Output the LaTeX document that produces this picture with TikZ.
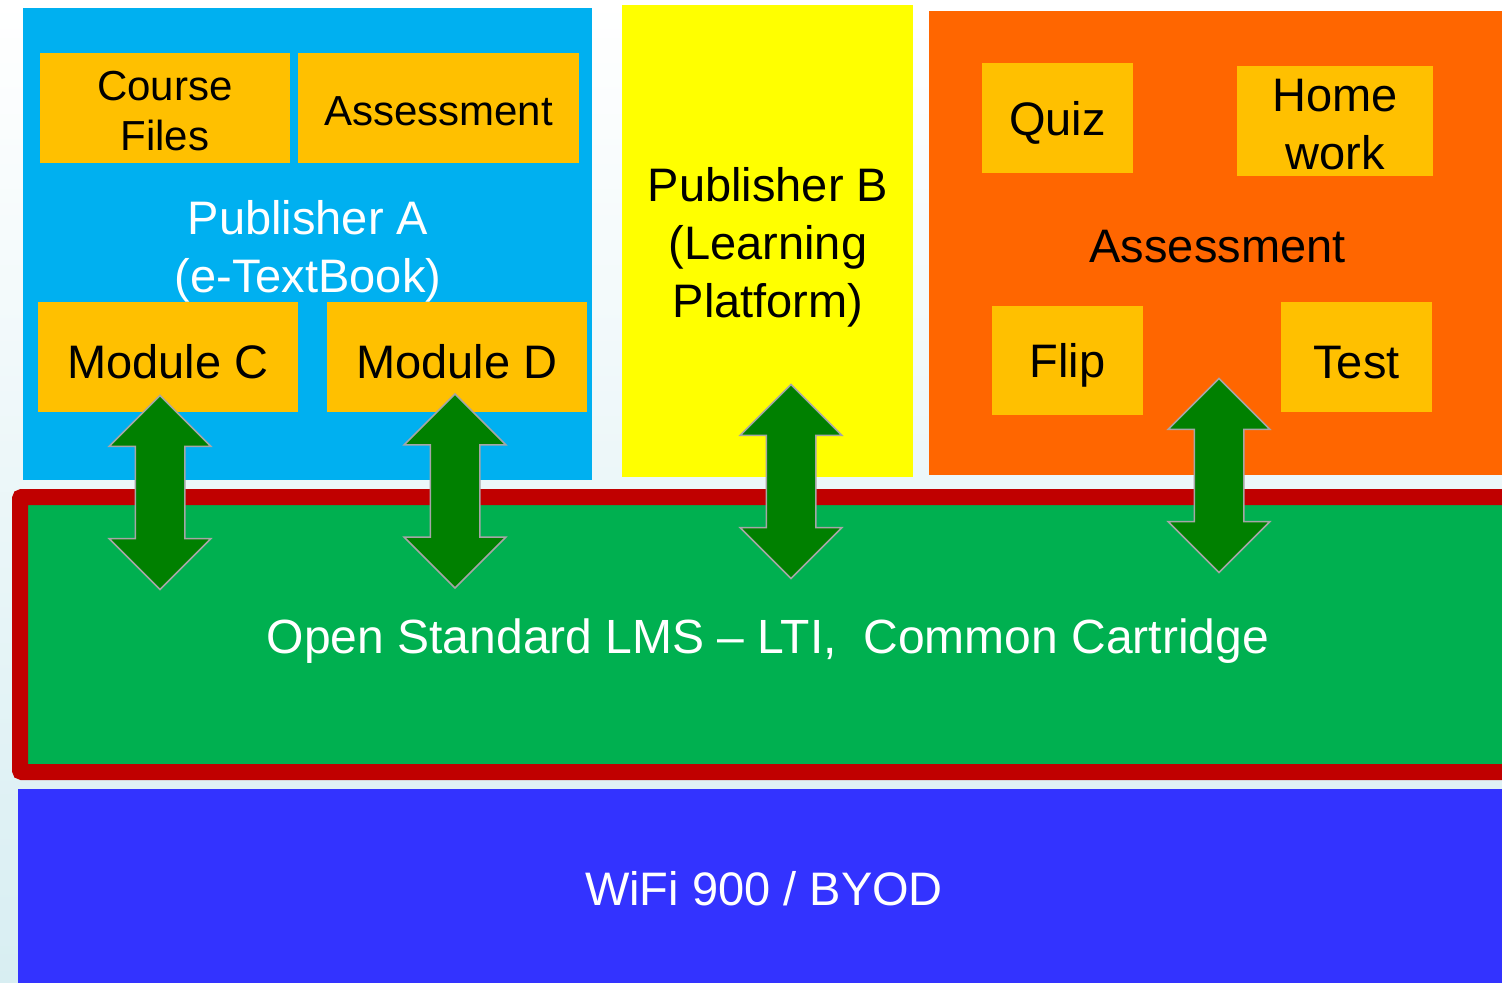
\documentclass[tikz,border=0pt]{standalone}
\usepackage{fontspec}
\setmainfont{Liberation Sans}
\usetikzlibrary{positioning, shapes.arrows}
\definecolor{pubblue}{HTML}{00B0F0}
\definecolor{boxamber}{HTML}{FFC000}
\definecolor{pubyellow}{HTML}{FFFF00}
\definecolor{puborange}{HTML}{FF6600}
\definecolor{lmsred}{HTML}{C00000}
\definecolor{lmsgreen}{HTML}{00B050}
\definecolor{arrowgreen}{HTML}{008000}
\definecolor{arrowgray}{HTML}{A6A6A6}
\definecolor{wifiblue}{HTML}{3333FF}
\definecolor{bgcyan}{HTML}{D8EEF2}

\begin{document}
\begin{tikzpicture}[x=0.5pt, y=-0.5pt,
	big/.style={font=\fontsize{23.5}{29}\selectfont},
	small/.style={font=\fontsize{21}{25}\selectfont, text height=18pt},
	panel/.style={rectangle, inner sep=0pt, outer sep=0pt},
	tile/.style={panel, fill=boxamber, align=center, minimum height=55pt, text height=21.5pt},
	updown/.style={double arrow, rotate=90, fill=arrowgreen, draw=arrowgray, line width=0.75pt, inner xsep=0pt, inner ysep=12pt, double arrow head extend=13pt, minimum height=97pt}]
	\useasboundingbox (0,0) rectangle (1502,983);
	\clip (0,0) rectangle (1502,983);
	\shade[top color=white, middle color=white, bottom color=bgcyan] (0,0) rectangle (1502,983);
	
	% Publishers
	\node[panel, fill=pubblue, minimum width=284.5pt, minimum height=236pt] (puba) at (307.5,244) {};
	\node[panel, fill=pubyellow, minimum width=145.5pt, minimum height=236pt] (pubb) at (767.5,241) {};
	\node[panel, fill=puborange, minimum width=290.5pt, minimum height=232pt] (assess) at (1219.5,243) {};
	\node[white, big, align=center] (pubatext) at (308,251.5) {Publisher A\\(e-TextBook)};
	\node[big, align=center] (pubbtext) at (768,247) {Publisher B\\(Learning\\Platform)};
	\node[big] (assesstext) at (1217.5,246.5) {Assessment};
	
	% Tiles of Publisher A
	\node[tile, small, minimum width=125pt, text height=43pt] (course) at (165,108) {Course\\Files};
	\node[tile, small, minimum width=140.5pt, right=4pt of course] (assessa) {Assessment};
	\node[tile, big, minimum width=130pt] (modc) at (168,357) {Module C};
	\node[tile, big, minimum width=130pt, right=14.5pt of modc] (modd) {Module D};
	
	% Tiles of Assessment
	\node[tile, big, minimum width=75.5pt] (quiz) at (1057.5,118) {Quiz};
	\node[tile, big, minimum width=98pt, text height=49pt] (hw) at (1335,121) {Home\\work};
	\node[tile, big, minimum width=75.5pt, minimum height=54.5pt] (flip) at (1067.5,360.5) {Flip};
	\node[tile, big, minimum width=75.5pt] (test) at (1356.5,357) {Test};
	
	% LMS and network
	\node[panel, fill=lmsgreen, draw=lmsred, line width=8pt, rounded corners=1pt, minimum width=755pt, minimum height=137.5pt] (lms) at (775,634.5) {};
	\node[white, font=\fontsize{24}{29}\selectfont] (lmstext) at (768,641.5) {Open Standard LMS – LTI,\ \ Common Cartridge};
	\node[panel, fill=wifiblue, minimum width=751pt, minimum height=100.5pt] (wifi) at (769,889.5) {};
	\node[white, big] (wifitext) at (764,889) {WiFi 900 / BYOD};
	
	% Links
	\node[updown] (linkc) at (160,492.5) {};
	\node[updown] (linkd) at (455,491) {};
	\node[updown] (linkb) at (791,481.5) {};
	\node[updown] (linkt) at (1219,475.5) {};
\end{tikzpicture}
\end{document}
